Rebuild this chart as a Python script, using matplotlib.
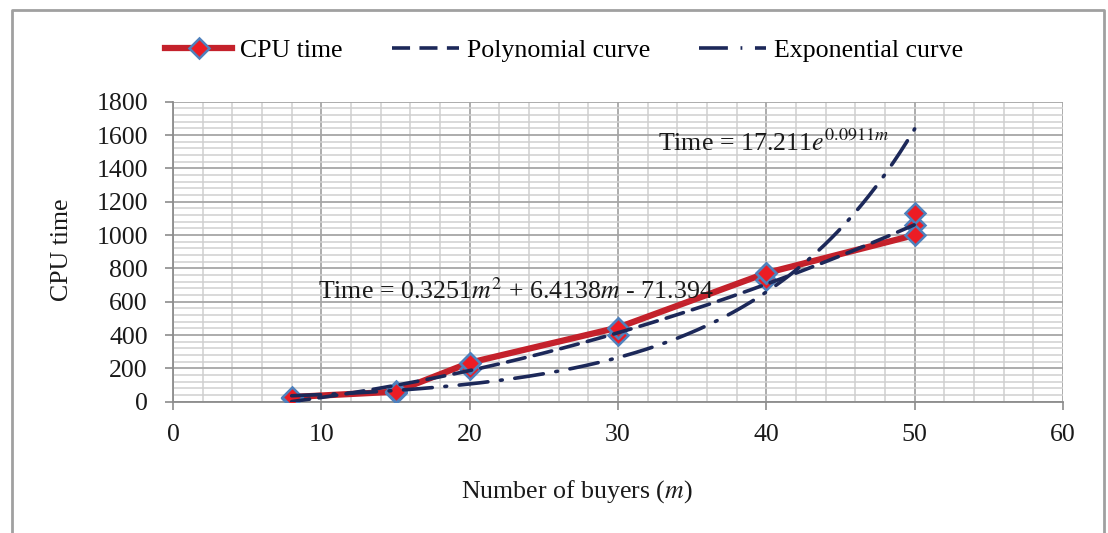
import numpy as np
import matplotlib
matplotlib.use("Agg")
import matplotlib.pyplot as plt
from matplotlib.ticker import MultipleLocator
from matplotlib.lines import Line2D

# ---- data ----
buyers = [8, 15, 20, 30, 40, 50]
cpu_time = [28, 60, 234, 445, 772, 1000]
cpu_time_b = [20, 50, 196, 400, 730, 1060]
cpu_time_c = [25, 66, 234, 442, 772, 1132]

poly_coef = [0.3251, 6.4138, -71.394]   # Time = a m^2 + b m + c
exp_a, exp_b = 17.211, 0.0911            # Time = a e^(b m)
x_ticks = [0, 10, 20, 30, 40, 50, 60]
y_ticks = [0, 200, 400, 600, 800, 1000, 1200, 1400, 1600, 1800]

legend_labels = ["CPU time", "Polynomial curve", "Exponential curve"]
poly_label = r"Time = 0.3251$m^2$ + 6.4138$m$ - 71.394"
exp_label = r"Time = 17.211$e^{0.0911m}$"

# ---- style ----
plt.rcParams['font.family'] = ['Liberation Serif', 'DejaVu Serif']
plt.rcParams['mathtext.fontset'] = 'stix'
FS = 18.6
RED = '#C4212B'
MFACE = '#EC1C24'
MEDGE = '#4F81BD'
NAVY = '#1C2859'
POLY_LS = (0, (5, 2.6))
EXP_LS = (0, (8, 3.5, 0.5, 3.5))

W, H = 1108, 533
fig = plt.figure(figsize=(W / 100, H / 100), dpi=100)
ax = fig.add_axes([173 / W, 1 - 401.7 / H, (1063 - 173) / W, (401.7 - 101.7) / H])

ax.set_xlim(0, 60)
ax.set_ylim(0, 1800)
ax.set_xticks(x_ticks)
ax.set_yticks(y_ticks)
ax.xaxis.set_minor_locator(MultipleLocator(2))
ax.yaxis.set_minor_locator(MultipleLocator(40))
ax.grid(which='major', color='#a6a6a6', lw=1.3, zorder=0)
ax.grid(which='minor', color='#cfcfcf', lw=1.1, zorder=0)
ax.set_axisbelow(True)
for s in ['top', 'right']:
    ax.spines[s].set_visible(False)
for s in ['left', 'bottom']:
    ax.spines[s].set_color('#8c8c8c')
    ax.spines[s].set_linewidth(1.3)
ax.tick_params(which='major', direction='out', length=6, width=1.2, color='#8c8c8c',
               labelsize=FS, labelcolor='#1a1a1a')
ax.tick_params(axis='x', pad=10)
ax.tick_params(axis='y', pad=12)
ax.tick_params(which='minor', length=0)

# trend curves evaluated over data range
xs = np.linspace(min(buyers), max(buyers), 300)
poly_y = np.polyval(poly_coef, xs)
exp_y = exp_a * np.exp(exp_b * xs)

ax.plot(buyers, cpu_time, color=RED, lw=4.5, zorder=3, solid_capstyle='butt')
for ser in (cpu_time_b, cpu_time_c, cpu_time):
    ax.plot(buyers, ser, ls='none', marker='D', ms=10, mfc=MFACE, mec=MEDGE, mew=1.8, zorder=4)
ax.plot(xs, poly_y, color=NAVY, lw=2.6, ls=POLY_LS, zorder=5, dash_capstyle='round')
ax.plot(xs, exp_y, color=NAVY, lw=2.6, ls=EXP_LS, zorder=5, dash_capstyle='round')

ax.text(9.8, 665, poly_label, fontsize=FS, color='#1a1a1a', va='center', ha='left', zorder=6)
ax.text(32.7, 1555, exp_label, fontsize=FS, color='#1a1a1a', va='center', ha='left', zorder=6)

fig.text(62 / W, 1 - 250 / H, "CPU time", rotation=90, fontsize=FS, ha='center', va='center',
         color='#1a1a1a')
fig.text(577 / W, 1 - 492 / H, r"Number of buyers ($m$)", fontsize=FS, ha='center', va='center',
         color='#1a1a1a')

handles = [
    Line2D([], [], color=RED, lw=4.5, marker='D', ms=10, mfc=MFACE, mec=MEDGE, mew=1.8),
    Line2D([], [], color=NAVY, lw=2.6, ls=POLY_LS),
    Line2D([], [], color=NAVY, lw=2.6, ls=EXP_LS),
]
fig.legend(handles, legend_labels, loc='center', bbox_to_anchor=(564 / W, 1 - 50 / H),
           ncol=3, frameon=False, fontsize=FS, handlelength=2.6, handletextpad=0.3,
           columnspacing=1.9)

# outer chart border
fig.add_artist(Line2D([12 / W, 12 / W, 1104 / W, 1104 / W], [0, 1 - 10 / H, 1 - 10 / H, 0],
                      transform=fig.transFigure, color='#a0a0a0', lw=2))

fig.savefig("out.png", dpi=100)
